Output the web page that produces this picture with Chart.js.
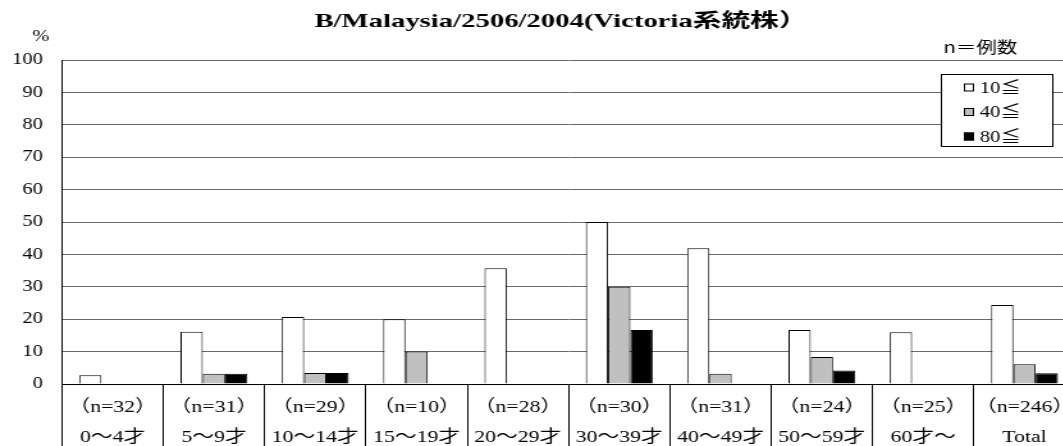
<!DOCTYPE html>
<html>
<head>
<meta charset="utf-8">
<script src="https://cdn.jsdelivr.net/npm/chart.js@4/dist/chart.umd.min.js"></script>
<style>
  html, body { margin: 0; padding: 0; background: #fff; overflow: hidden; }
  #c { display: block; transform: scaleX(1.28); transform-origin: 0 0; }
</style>
</head>
<body>
<canvas id="c" width="845" height="446"></canvas>
<script>
// 元の図は横に引き伸ばされているので、canvas ごと横に伸ばす
const STRETCH = 1.28;

const chartTitle = 'B/Malaysia/2506/2004(Victoria系統株）';
const nLabels = ['（n=32）', '（n=31）', '（n=29）', '（n=10）', '（n=28）', '（n=30）', '（n=31）', '（n=24）', '（n=25）', '（n=246）'];
const ageLabels = ['0～4才', '5～9才', '10～14才', '15～19才', '20～29才', '30～39才', '40～49才', '50～59才', '60才～', 'Total'];
const seriesNames = ['10≦', '40≦', '80≦'];
const over10 = [2.7, 16.1, 20.7, 20.0, 35.7, 50.0, 41.9, 16.7, 16.0, 24.4];
const over40 = [0, 3.2, 3.4, 10.0, 0, 30.0, 3.2, 8.3, 0, 6.1];
const over80 = [0, 3.2, 3.4, 0, 0, 16.7, 0, 4.2, 0, 3.3];
const yTicks = [0, 10, 20, 30, 40, 50, 60, 70, 80, 90, 100];

const serif = "'Liberation Serif', 'Noto Sans CJK JP'";
const labels = nLabels.map((n, i) => [n, ageLabels[i]]);

// タイトル・単位・凡例は自前で描く
const extras = {
  id: 'extras',
  afterDraw(chart) {
    const ctx = chart.ctx;
    ctx.save();
    ctx.fillStyle = '#000';

    ctx.font = 'bold 19px ' + serif;
    ctx.textAlign = 'center';
    ctx.textBaseline = 'alphabetic';
    ctx.save();
    ctx.translate(561 / STRETCH, 27);
    ctx.scale(1.18, 1);
    ctx.fillText(chartTitle, 0, 0);
    ctx.restore();

    ctx.font = '16px ' + serif;
    ctx.textBaseline = 'middle';
    ctx.fillText('%', 32, 37);

    ctx.font = "16px 'Noto Sans CJK JP'";
    ctx.textAlign = 'left';
    ctx.fillText('n＝例数', 737, 47);

    // 凡例
    const bx = 735, by = 74, bw = 87, bh = 72;
    ctx.fillStyle = '#fff';
    ctx.fillRect(bx, by, bw, bh);
    ctx.strokeStyle = '#000';
    ctx.lineWidth = 1;
    ctx.strokeRect(bx + 0.5, by + 0.5, bw, bh);
    ctx.font = '16px ' + serif;
    chart.data.datasets.forEach((ds, i) => {
      const cy = 87.5 + i * 24.5;
      ctx.fillStyle = ds.backgroundColor;
      ctx.fillRect(753, cy - 4, 8, 8);
      ctx.strokeRect(753.5, cy - 3.5, 7, 7);
      ctx.fillStyle = '#000';
      ctx.fillText(ds.label, 765.6, cy + 1);
    });
    ctx.restore();
  }
};

new Chart(document.getElementById('c'), {
  type: 'bar',
  data: {
    labels: labels,
    datasets: [
      { label: seriesNames[0], data: over10, backgroundColor: '#ffffff' },
      { label: seriesNames[1], data: over40, backgroundColor: '#c0c0c0' },
      { label: seriesNames[2], data: over80, backgroundColor: '#000000' }
    ]
  },
  options: {
    responsive: false,
    animation: false,
    layout: { padding: { top: 60, right: 5, left: 0, bottom: 0 } },
    datasets: {
      bar: {
        categoryPercentage: 0.66,
        barPercentage: 1,
        borderColor: '#000',
        borderWidth: 1
      }
    },
    plugins: {
      legend: { display: false },
      tooltip: { enabled: false },
      title: { display: false }
    },
    scales: {
      x: {
        grid: {
          offset: true,
          drawOnChartArea: false,
          drawTicks: true,
          tickLength: 62,
          color: '#000'
        },
        border: { display: true, color: '#000', width: 1 },
        ticks: {
          autoSkip: false,
          maxRotation: 0,
          minRotation: 0,
          padding: -53,
          color: '#000',
          font: { family: serif, size: 17, lineHeight: '30px' }
        },
        afterFit(scale) { scale.height = 62; }
      },
      y: {
        min: 0,
        max: 100,
        afterBuildTicks(scale) { scale.ticks = yTicks.map(v => ({ value: v })); },
        grid: { color: '#6a6a6a', lineWidth: 1, drawTicks: false },
        border: { display: true, color: '#000', width: 1 },
        ticks: {
          padding: 15,
          color: '#000',
          font: { family: serif, size: 16 }
        },
        afterFit(scale) { scale.width = 48.4; }
      }
    }
  },
  plugins: [extras]
});
</script>
</body>
</html>
